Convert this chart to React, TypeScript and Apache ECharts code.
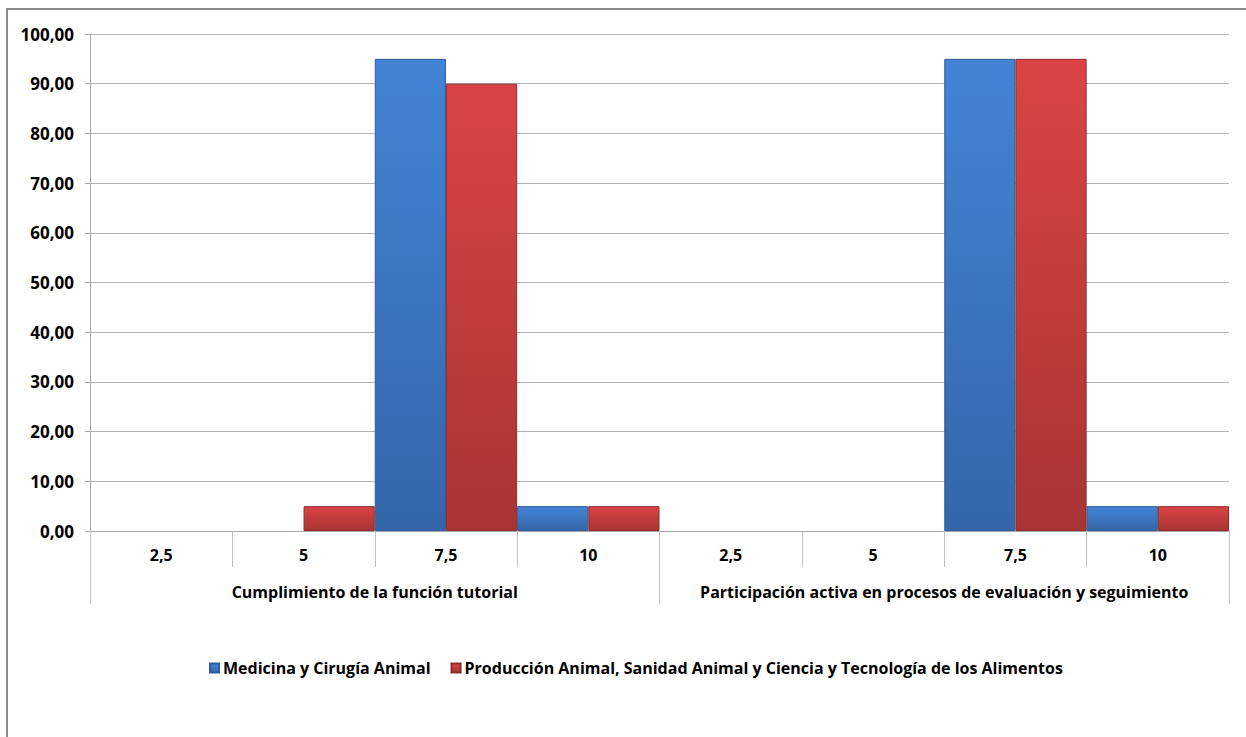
import React, { useEffect, useRef } from "react";
import * as echarts from "echarts";

const subCategories = ["2,5", "5", "7,5", "10", "2,5", "5", "7,5", "10"];
const groupCategories = [
  "Cumplimiento de la función tutorial",
  "Participación activa en procesos de evaluación y seguimiento",
];
const seriesNames = [
  "Medicina y Cirugía Animal",
  "Producción Animal, Sanidad Animal y Ciencia y Tecnología de los Alimentos",
];
const medicinaValues = [0, 0, 95, 5, 0, 0, 95, 5];
const produccionValues = [0, 5, 90, 5, 0, 0, 95, 5];
const yTicks = { min: 0, max: 100, interval: 10 };

const FONT = "Open Sans";

const blueFill = new echarts.graphic.LinearGradient(0, 0, 0, 1, [
  { offset: 0, color: "#4384d6" },
  { offset: 1, color: "#3466a9" },
]);
const redFill = new echarts.graphic.LinearGradient(0, 0, 0, 1, [
  { offset: 0, color: "#db4444" },
  { offset: 1, color: "#a83434" },
]);

const hideZero = (arr: number[]) => arr.map((v) => (v === 0 ? "-" : v));

export default function App() {
  const ref = useRef<HTMLDivElement>(null);
  useEffect(() => {
    if (!ref.current) return;
    const chart = echarts.init(ref.current, null, { renderer: "svg" });
    const labelStyle = {
      fontFamily: FONT,
      fontWeight: "bold" as const,
      fontSize: 16,
      color: "#000",
    };
    chart.setOption({
      animation: false,
      backgroundColor: "#fff",
      graphic: [
        {
          type: "rect",
          shape: { x: 7, y: 9, width: 1300, height: 800 },
          style: { fill: "none", stroke: "#8c8c8c", lineWidth: 2 },
          silent: true,
        },
      ],
      grid: { left: 90, right: 17, top: 34, bottom: 206, containLabel: false },
      legend: {
        left: 204,
        top: 655,
        itemWidth: 9,
        itemHeight: 9,
        itemGap: 20,
        icon: "rect",
        textStyle: { ...labelStyle, padding: [0, 0, 0, -1] },
        data: seriesNames,
      },
      xAxis: [
        {
          type: "category",
          data: subCategories,
          position: "bottom",
          axisLine: { show: true, lineStyle: { color: "#a6a6a6", width: 1 } },
          axisTick: {
            show: true,
            interval: 0,
            length: 36,
            alignWithLabel: false,
            lineStyle: { color: "#bfbfbf" },
          },
          axisLabel: { ...labelStyle, interval: 0, margin: 16 },
          splitLine: { show: false },
        },
        {
          type: "category",
          data: groupCategories,
          position: "bottom",
          axisLine: { show: false },
          axisTick: {
            show: true,
            interval: 0,
            length: 73,
            lineStyle: { color: "#bfbfbf" },
          },
          axisLabel: { ...labelStyle, interval: 0, margin: 53 },
          splitLine: { show: false },
        },
      ],
      yAxis: {
        type: "value",
        min: yTicks.min,
        max: yTicks.max,
        interval: yTicks.interval,
        axisLine: { show: true, lineStyle: { color: "#a6a6a6" } },
        axisTick: { show: true, length: 5, lineStyle: { color: "#a6a6a6" } },
        axisLabel: {
          ...labelStyle,
          fontSize: 17,
          margin: 16,
          formatter: (v: number) => v.toFixed(2).replace(".", ","),
        },
        splitLine: { show: true, lineStyle: { color: "#b3b3b3", width: 1 } },
      },
      series: [
        {
          name: seriesNames[0],
          type: "bar",
          xAxisIndex: 0,
          data: hideZero(medicinaValues),
          barGap: "0%",
          barCategoryGap: "0%",
          itemStyle: { color: blueFill, borderColor: "#2f5d99", borderWidth: 1 },
        },
        {
          name: seriesNames[1],
          type: "bar",
          xAxisIndex: 0,
          data: hideZero(produccionValues),
          barGap: "0%",
          barCategoryGap: "0%",
          itemStyle: { color: redFill, borderColor: "#8f2b2b", borderWidth: 1 },
        },
      ],
    });
    return () => chart.dispose();
  }, []);
  return (
    <div
      ref={ref}
      style={{ position: "fixed", left: 0, top: 0, width: 1246, height: 737 }}
    />
  );
}
